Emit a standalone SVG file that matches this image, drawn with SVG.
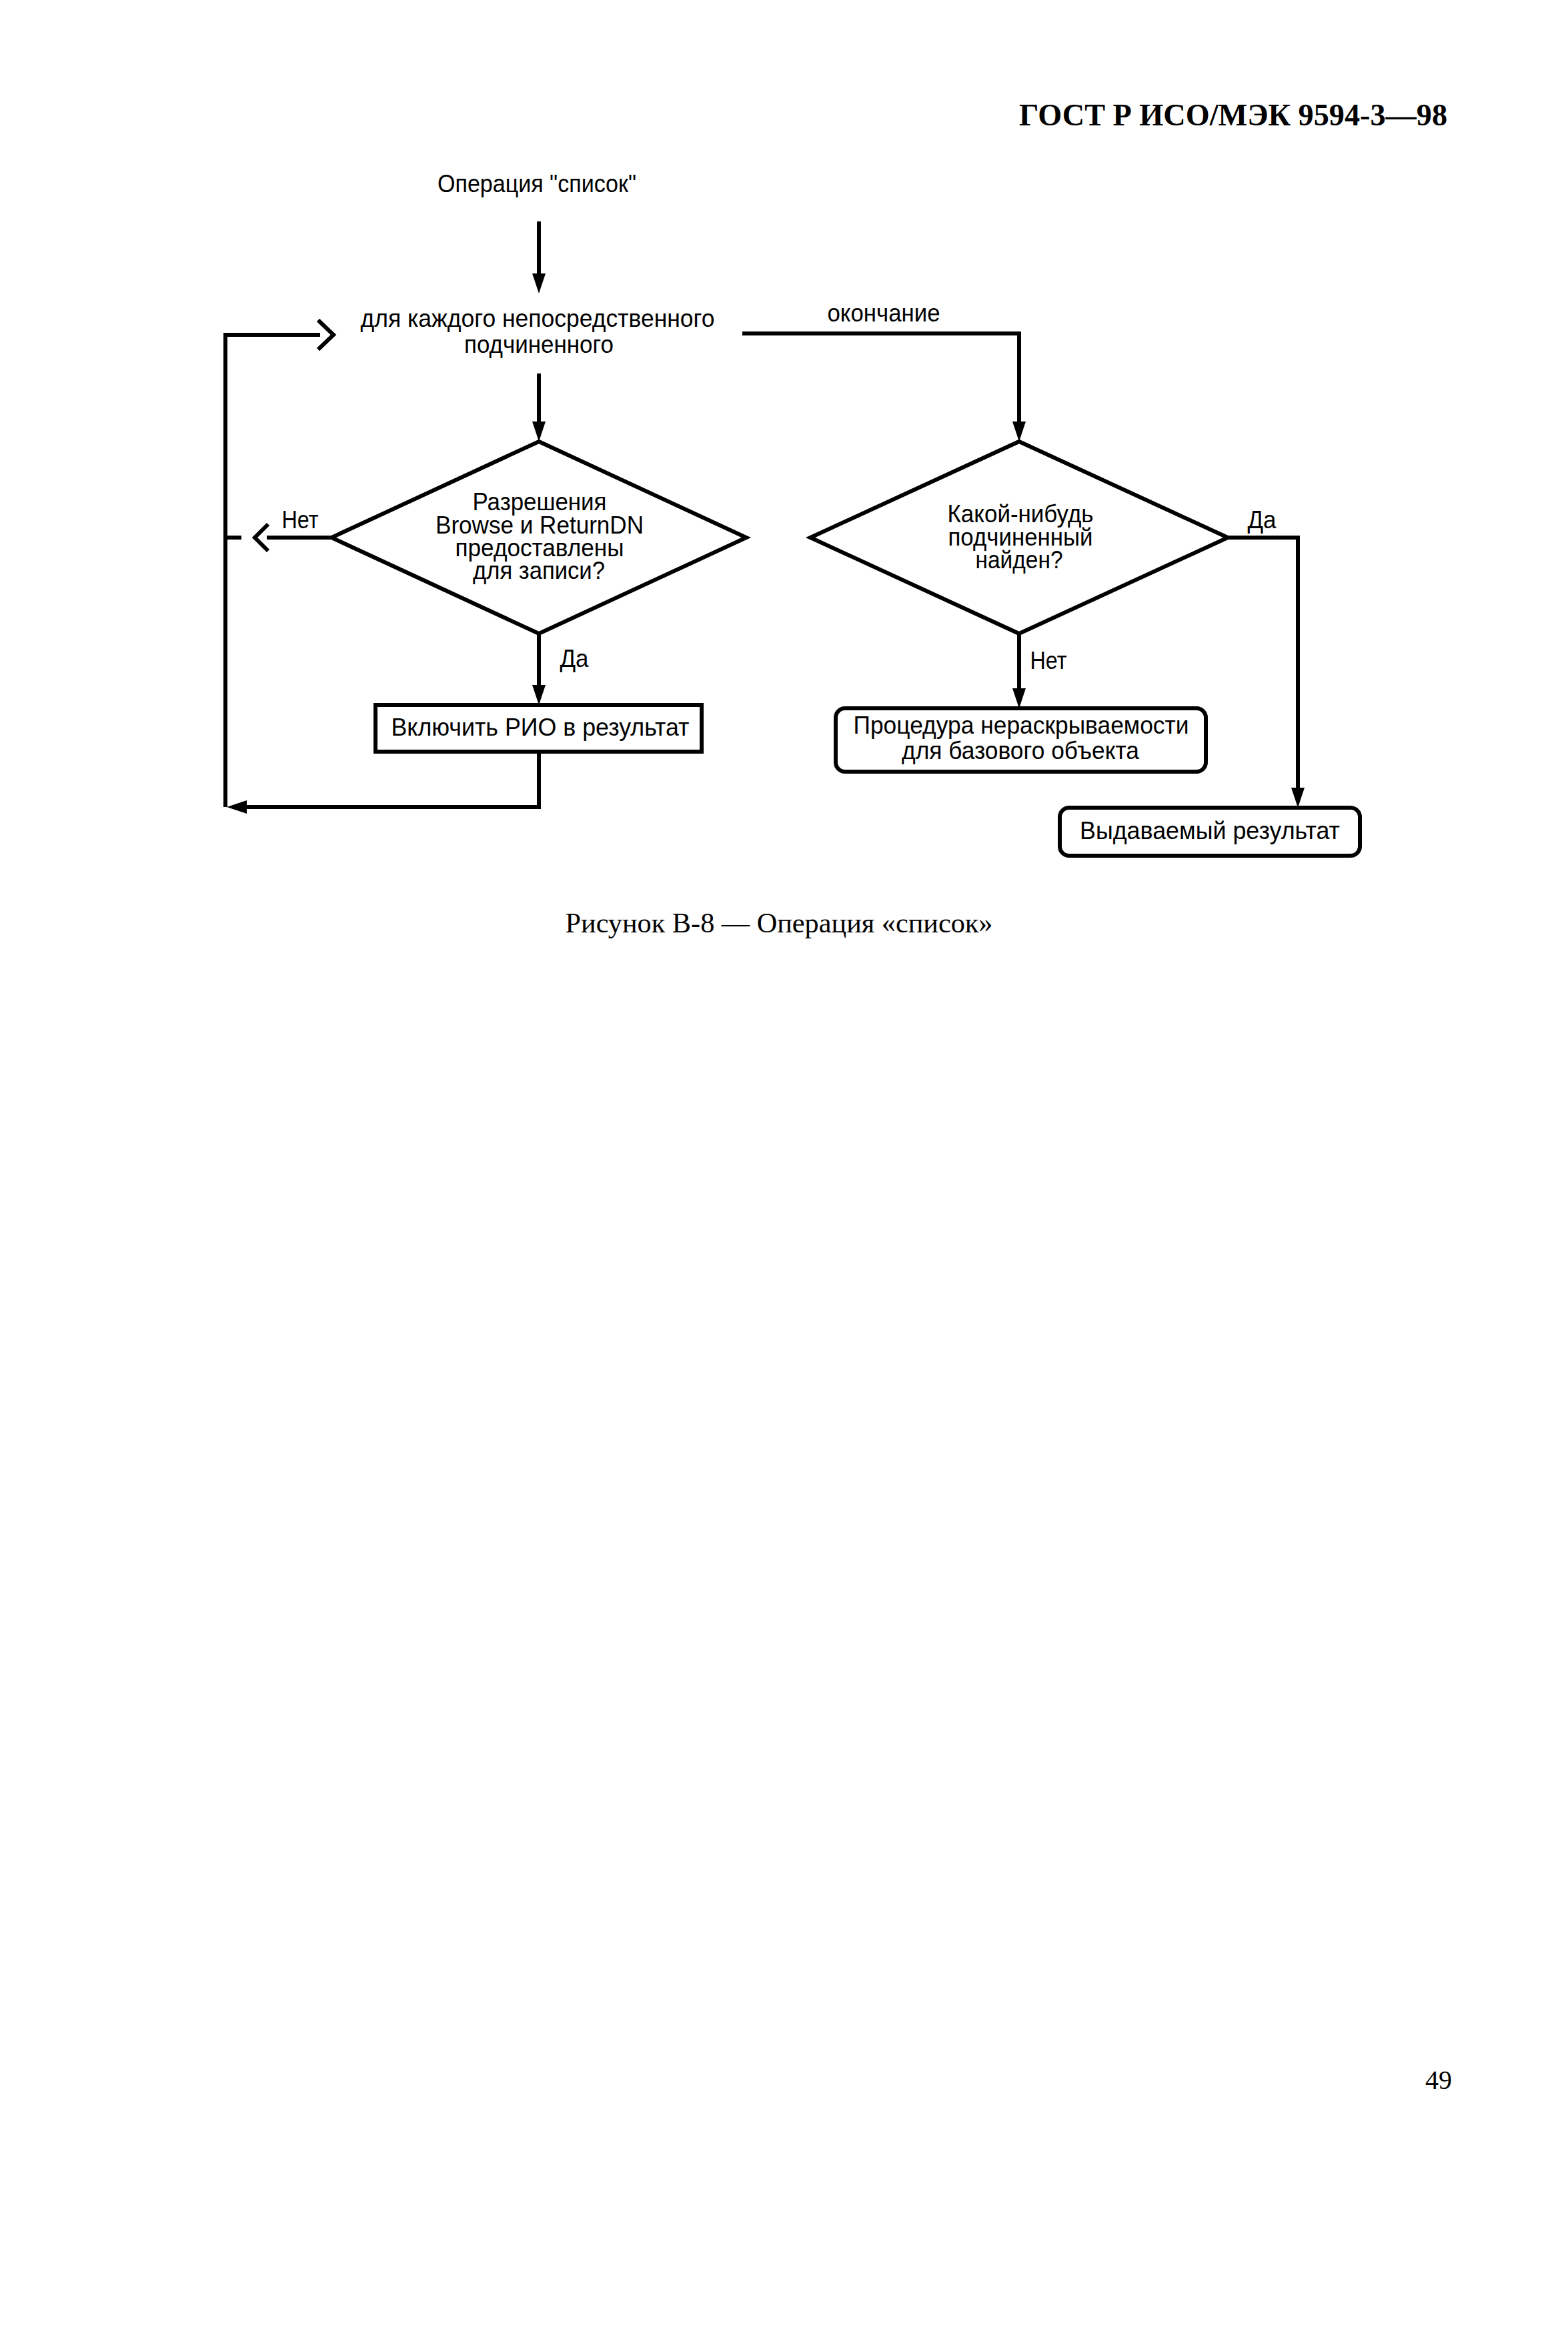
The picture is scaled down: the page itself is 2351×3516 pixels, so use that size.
<svg xmlns="http://www.w3.org/2000/svg" width="2351" height="3516" viewBox="0 0 2351 3516">
<defs>
<style>
.t{font-family:"Liberation Sans",Arial,sans-serif;font-size:37px;fill:#000;text-anchor:middle}
.s{font-family:"Liberation Serif","Times New Roman",serif;fill:#000}
.ln{fill:none;stroke:#000;stroke-width:6;stroke-linejoin:miter}
.arr{fill:none;stroke:#000;stroke-width:6;marker-end:url(#ah)}
.box{fill:#fff;stroke:#000;stroke-width:6}
</style>
<marker id="ah" viewBox="0 0 30 20" refX="15" refY="10" markerWidth="30" markerHeight="20" markerUnits="userSpaceOnUse" orient="auto">
<path d="M0,0 L30,10 L0,20 z" fill="#000"/>
</marker>
</defs>
<rect x="0" y="0" width="2351" height="3516" fill="#fff"/>

<text class="s" x="2170" y="188" font-size="47" font-weight="bold" text-anchor="end" textLength="642" lengthAdjust="spacingAndGlyphs">ГОСТ Р ИСО/МЭК 9594-3—98</text>

<g id="connectors">
<path class="arr" d="M808,332 L808,425"/>
<path class="arr" d="M808,560 L808,647"/>
<path class="arr" d="M1113,500 L1528,500 L1528,647"/>
<path class="arr" d="M808,950 L808,1042"/>
<path class="arr" d="M1528,950 L1528,1047"/>
<path class="arr" d="M1841,806 L1946,806 L1946,1196"/>
<path class="arr" d="M808,1127 L808,1210 L355,1210"/>
<path class="ln" d="M338,1210 L338,502 L480,502"/>
<path class="ln" d="M477,480 L500,502 L477,524"/>
<path class="ln" d="M497,806 L400,806"/>
<path class="ln" d="M402,786 L382,806 L402,826"/>
<path class="ln" d="M338,806 L362,806"/>
<text class="t" x="1325" y="482" textLength="169" lengthAdjust="spacingAndGlyphs">окончание</text>
<text class="t" x="450" y="792" textLength="55" lengthAdjust="spacingAndGlyphs">Нет</text>
<text class="t" x="861" y="1000" textLength="43" lengthAdjust="spacingAndGlyphs">Да</text>
<text class="t" x="1892" y="792" textLength="43" lengthAdjust="spacingAndGlyphs">Да</text>
<text class="t" x="1572" y="1003" textLength="55" lengthAdjust="spacingAndGlyphs">Нет</text>
</g>

<g id="start">
<text class="t" x="805" y="288" textLength="298" lengthAdjust="spacingAndGlyphs">Операция "список"</text>
</g>

<g id="loop">
<text class="t" x="806" y="490" textLength="531" lengthAdjust="spacingAndGlyphs">для каждого непосредственного</text>
<text class="t" x="808" y="529" textLength="224" lengthAdjust="spacingAndGlyphs">подчиненного</text>
</g>

<g id="decision-permissions">
<polygon class="box" points="808,662 1119,806 808,950 497,806"/>
<text class="t" x="809" y="765" textLength="201" lengthAdjust="spacingAndGlyphs">Разрешения</text>
<text class="t" x="809" y="800" textLength="312" lengthAdjust="spacingAndGlyphs">Browse и ReturnDN</text>
<text class="t" x="809" y="834" textLength="253" lengthAdjust="spacingAndGlyphs">предоставлены</text>
<text class="t" x="808" y="868" textLength="198" lengthAdjust="spacingAndGlyphs">для записи?</text>
</g>

<g id="decision-found">
<polygon class="box" points="1528,662 1841,806 1528,950 1215,806"/>
<text class="t" x="1530" y="783" textLength="219" lengthAdjust="spacingAndGlyphs">Какой-нибудь</text>
<text class="t" x="1530" y="818" textLength="217" lengthAdjust="spacingAndGlyphs">подчиненный</text>
<text class="t" x="1528" y="852" textLength="131" lengthAdjust="spacingAndGlyphs">найден?</text>
</g>

<g id="include">
<rect class="box" x="563" y="1057" width="489" height="70"/>
<text class="t" x="810" y="1103" textLength="447" lengthAdjust="spacingAndGlyphs">Включить РИО в результат</text>
</g>

<g id="procedure">
<rect class="box" x="1253" y="1062" width="555" height="95" rx="14"/>
<text class="t" x="1531" y="1100" textLength="503" lengthAdjust="spacingAndGlyphs">Процедура нераскрываемости</text>
<text class="t" x="1530" y="1138" textLength="356" lengthAdjust="spacingAndGlyphs">для базового объекта</text>
</g>

<g id="result">
<rect class="box" x="1589" y="1211" width="450" height="72" rx="14"/>
<text class="t" x="1814" y="1258" textLength="390" lengthAdjust="spacingAndGlyphs">Выдаваемый результат</text>
</g>

<text class="s" x="1168" y="1398" font-size="42" text-anchor="middle" textLength="641" lengthAdjust="spacingAndGlyphs">Рисунок В-8 — Операция «список»</text>
<text class="s" x="2157" y="3132" font-size="40" text-anchor="middle">49</text>
</svg>
